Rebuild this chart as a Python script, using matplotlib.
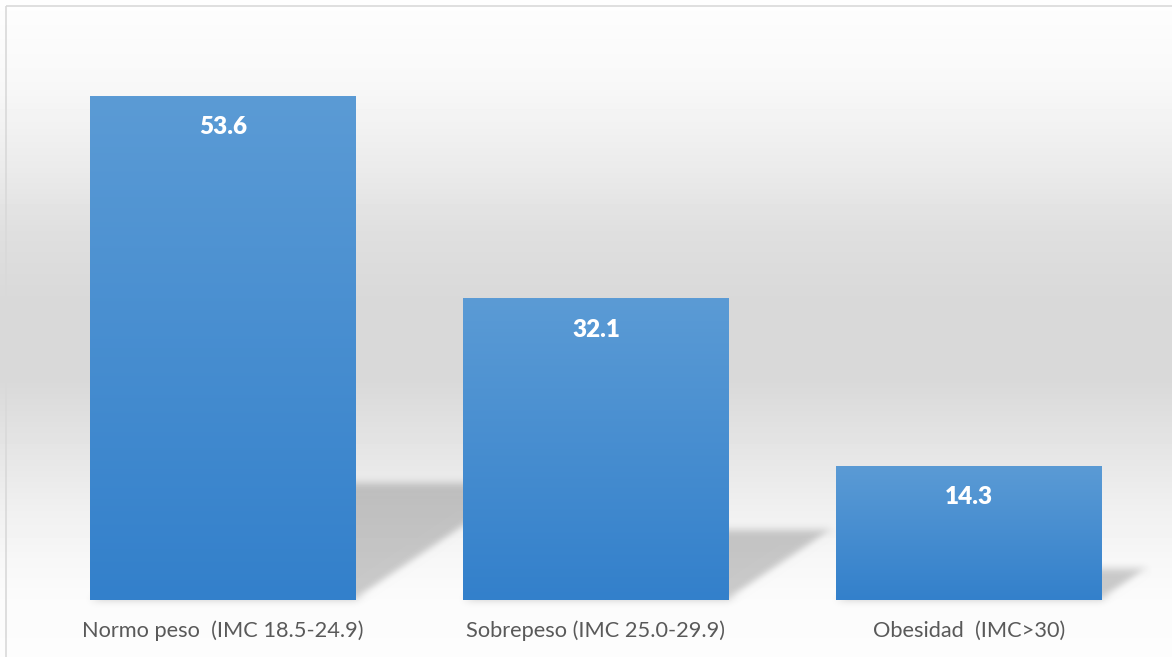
import numpy as np
import matplotlib
matplotlib.use("Agg")
import matplotlib.pyplot as plt
from matplotlib.colors import LinearSegmentedColormap
from matplotlib.patches import Polygon, Rectangle

# IMC categories and their percentages
categorias = ["Normo peso  (IMC 18.5-24.9)", "Sobrepeso (IMC 25.0-29.9)", "Obesidad  (IMC>30)"]
porcentajes = [53.6, 32.1, 14.3]

W, H, DPI = 1172, 657, 100
BAR_W = 0.713


def gaussian_blur(img, dpi, sigma=4.0):
    """agg_filter: soft gaussian blur used for the cast shadows."""
    pad = int(3 * sigma) + 2
    a = np.pad(img, ((pad, pad), (pad, pad), (0, 0)))
    r = int(3 * sigma)
    k = np.exp(-0.5 * (np.arange(-r, r + 1) / sigma) ** 2)
    k /= k.sum()
    for axis in (0, 1):
        out = np.zeros_like(a)
        for j, kj in enumerate(k):
            out += kj * np.roll(a, j - r, axis=axis)
        a = out
    return a, -pad, -pad


fig = plt.figure(figsize=(W / DPI, H / DPI), dpi=DPI)

# background: vertical grey gradient + thin frame
bg = fig.add_axes([0, 0, 1, 1], zorder=0)
bg.set_xlim(0, W)
bg.set_ylim(H, 0)
bg.axis("off")
stops_y = [0, 84, 167, 230, 300, 380, 430, 500, 560, 600, H]
stops_v = [0.995, 0.972, 0.922, 0.875, 0.850, 0.850, 0.885, 0.935, 0.970, 0.985, 0.99]
col = np.interp(np.arange(H), stops_y, stops_v)
grad = np.repeat(col[:, None], 2, axis=1)
bg.imshow(grad, cmap="gray", vmin=0, vmax=1, extent=[0, W, H, 0], aspect="auto")
bg.add_patch(Rectangle((6, 6), W + 10, H + 10, fill=False, edgecolor="#d9d9d9", lw=1.2))

ax = fig.add_axes([36.5 / W, 57 / H, 1119 / W, 564 / H], zorder=1)
ax.patch.set_visible(False)
x = np.arange(len(categorias))

# cast shadows falling to the right of each bar
for xi, v in zip(x, porcentajes):
    hs = 0.232 * v
    dx = 0.00869 * v
    l, r = xi - BAR_W / 2, xi + BAR_W / 2
    sh = Polygon([(l, 0), (r, 0), (r + dx, hs), (l + dx, hs)], closed=True,
                 facecolor="black", alpha=0.2, edgecolor="none", zorder=1)
    sh.set_agg_filter(gaussian_blur)
    ax.add_patch(sh)

# bars with a light-to-dark blue vertical gradient
cmap = LinearSegmentedColormap.from_list("azul", ["#3380cb", "#5b9bd5"])
bars = ax.bar(x, porcentajes, width=BAR_W, color="#4a8fd0", zorder=2)
for b in bars:
    bx, by = b.get_x(), b.get_y()
    bw, bh = b.get_width(), b.get_height()
    im = ax.imshow(np.linspace(0, 1, 256)[:, None], cmap=cmap, origin="lower",
                   extent=[bx, bx + bw, by, by + bh], aspect="auto", zorder=3)
    im.set_clip_path(b)
ax.set_xlim(-0.5, len(categorias) - 0.5)
ax.set_ylim(0, 60)

for xi, v in zip(x, porcentajes):
    ax.annotate(f"{v:.1f}", xy=(xi, v), xytext=(0, -22.5), textcoords="offset points",
                ha="center", va="center", color="white", fontsize=17.5,
                fontweight="heavy", family="Lato", zorder=4)

ax.set_xticks(x)
ax.set_xticklabels(categorias, fontsize=15.7, color="#595959", family="Lato")
ax.tick_params(axis="x", length=0, pad=15)
ax.set_yticks([])
for s in ax.spines.values():
    s.set_visible(False)

fig.savefig("out.png", dpi=DPI)
